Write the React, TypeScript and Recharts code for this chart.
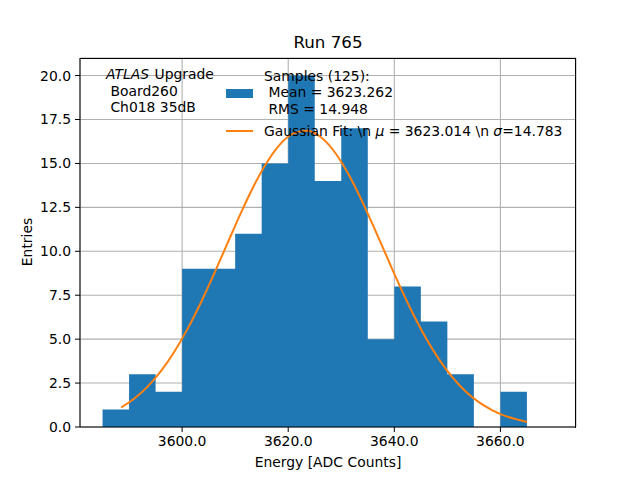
import React from "react";
import {
  ComposedChart,
  Area,
  Line,
  XAxis,
  YAxis,
  CartesianGrid,
} from "recharts";

// histogram bins (left edges, 5 ADC wide) and entries per bin
const binEdges = [
  3585, 3590, 3595, 3600, 3605, 3610, 3615, 3620, 3625, 3630, 3635, 3640,
  3645, 3650, 3655, 3660, 3665, 3670,
];
const counts = [1, 3, 2, 9, 9, 11, 15, 20, 14, 17, 5, 8, 6, 3, 0, 2, 0];

// gaussian fit curve
const fitX = [
  3588.5, 3591, 3593.5, 3596, 3598.5, 3601, 3603.5, 3606, 3608.5, 3611, 3613.5,
  3616, 3618.5, 3621, 3623.5, 3626, 3628.5, 3631, 3633.5, 3636, 3638.5, 3641,
  3643.5, 3646, 3648.5, 3651, 3653.5, 3656, 3658.5, 3661, 3663.5, 3665,
];
const fitY = [
  1.11, 1.62, 2.3, 3.18, 4.27, 5.57, 7.06, 8.7, 10.42, 12.13, 13.72, 15.07,
  16.1, 16.71, 16.86, 16.53, 15.75, 14.58, 13.12, 11.47, 9.75, 8.05, 6.46,
  5.04, 3.82, 2.81, 2.01, 1.4, 0.95, 0.62, 0.4, 0.29,
];

const xTicks = [3600, 3620, 3640, 3660];
const yTicks = [0, 2.5, 5, 7.5, 10, 12.5, 15, 17.5, 20];

const histData = binEdges.map((x, i) => ({ x, count: counts[i] ?? 0 }));
const fitData = fitX.map((x, i) => ({ x, fit: fitY[i] }));

const FONT = "'DejaVu Sans', sans-serif";
const tickStyle = { fontSize: 13.9, fill: "#000", fontFamily: FONT };

export default function App() {
  const txt: React.CSSProperties = {
    position: "absolute",
    fontFamily: FONT,
    fontSize: 13.9,
    color: "#000",
    whiteSpace: "pre",
    lineHeight: "16.6px",
  };
  return (
    <div
      style={{
        position: "absolute",
        left: 0,
        top: 0,
        width: 640,
        height: 480,
        background: "#fff",
      }}
    >
      <ComposedChart
        width={640}
        height={480}
        margin={{ top: 58, right: 64, bottom: 0, left: 0 }}
      >
        <XAxis
          dataKey="x"
          type="number"
          domain={[3580.75, 3674.25]}
          ticks={xTicks}
          tickFormatter={(v: number) => v.toFixed(1)}
          allowDataOverflow
          height={53}
          tick={tickStyle}
          tickSize={5}
          tickMargin={4}
          stroke="#000"
        />
        <YAxis
          type="number"
          domain={[0, 21]}
          ticks={yTicks}
          tickFormatter={(v: number) => v.toFixed(1)}
          allowDataOverflow
          width={80}
          tick={tickStyle}
          tickSize={5}
          tickMargin={4}
          stroke="#000"
        />
        <Area
          data={histData}
          dataKey="count"
          type="stepAfter"
          stroke="none"
          fill="#1f77b4"
          fillOpacity={1}
          baseValue={0}
          isAnimationActive={false}
        />
        <CartesianGrid stroke="#b0b0b0" strokeWidth={1.1} />
        <Line
          data={fitData}
          dataKey="fit"
          type="monotone"
          stroke="#ff7f0e"
          strokeWidth={2}
          dot={false}
          isAnimationActive={false}
        />
      </ComposedChart>

      {/* top and right spines */}
      <div
        style={{
          position: "absolute",
          left: 80,
          top: 57.5,
          width: 496,
          height: 370,
          borderTop: "1.1px solid #000",
          borderRight: "1.1px solid #000",
          boxSizing: "border-box",
          pointerEvents: "none",
        }}
      />

      <div
        style={{
          ...txt,
          fontSize: 16.7,
          left: 80,
          width: 496,
          textAlign: "center",
          top: 34,
        }}
      >
        Run 765
      </div>
      <div style={{ ...txt, left: 80, width: 496, textAlign: "center", top: 454 }}>
        Energy [ADC Counts]
      </div>
      <div
        style={{
          ...txt,
          left: 27,
          top: 242,
          transform: "translate(-50%, -50%) rotate(-90deg)",
        }}
      >
        Entries
      </div>

      {/* annotation */}
      <div style={{ ...txt, left: 106, top: 66, fontStyle: "italic" }}>ATLAS</div>
      <div style={{ ...txt, left: 154.5, top: 66 }}>Upgrade</div>
      <div style={{ ...txt, left: 106, top: 82.6 }}>
        {" Board260\n Ch018 35dB"}
      </div>

      {/* legend */}
      <div
        style={{
          position: "absolute",
          left: 226,
          top: 89.3,
          width: 27,
          height: 9,
          background: "#1f77b4",
        }}
      />
      <div style={{ ...txt, left: 264, top: 67.5 }}>
        {"Samples (125):\n Mean = 3623.262\n RMS = 14.948"}
      </div>
      <div
        style={{
          position: "absolute",
          left: 226,
          top: 130,
          width: 27,
          height: 2,
          background: "#ff7f0e",
        }}
      />
      <div style={{ ...txt, left: 264, top: 122.5 }}>
        {"Gaussian Fit: \\n "}
        <i>μ</i>
        {" = 3623.014 \\n "}
        <i>σ</i>
        {"=14.783"}
      </div>
    </div>
  );
}
